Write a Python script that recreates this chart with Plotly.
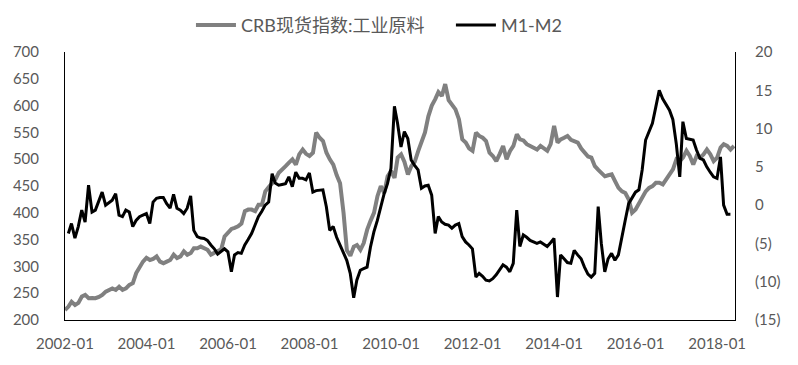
import pandas as pd
import plotly.graph_objects as go

# CRB spot index: industrial raw materials (monthly, starting 2002-01)
crb_values = [
    218.7, 225, 234, 228, 232, 243.7, 246.8, 240.6, 241, 240.6, 243, 246.8,
    253, 256, 259, 256, 262, 256, 259, 265.6, 268.7, 287.5, 300, 309,
    316, 312, 314, 318.6, 309, 306, 309, 312, 322, 315.6, 318.6, 328,
    321.7, 325, 334, 334, 337, 334, 331, 322, 325, 328, 332, 356,
    362, 370, 372, 374.8, 380, 403, 406, 406, 403, 415, 415, 440,
    448, 456, 462, 474.8, 482, 487, 493.5, 499.7, 490, 509, 518, 510,
    506, 512, 549.7, 540, 534, 512, 499.7, 490, 470, 455, 400, 330,
    320, 337, 340, 331, 343.6, 368.6, 385, 400, 431, 449.7, 437, 468,
    478, 465, 503, 509, 495, 471.6, 487, 495, 515, 535, 550, 580,
    600, 612, 625, 618, 640, 610, 600, 593, 574.6, 537, 531, 520,
    515.6, 549.7, 543.4, 540, 534, 512, 506, 496.5, 510, 524.7, 499.7, 515,
    524.7, 546.5, 537, 535, 528, 524.7, 520, 518, 524.7, 520, 515.6, 528,
    562, 531, 537, 540, 543.4, 536, 534, 531, 520, 512, 505, 503,
    487, 480, 474.8, 468, 470, 471.6, 459, 446.5, 440, 437, 424.7, 400,
    406, 418.5, 431, 440, 446.5, 449.7, 456, 456, 453, 462, 470, 481,
    499.7, 496.5, 503, 515.6, 506, 490, 506, 503, 509, 518, 509, 496.5,
    503, 521.6, 528, 524.7, 518, 524.7,
]

# M1-M2 growth gap (monthly, 2002-01 .. 2018-04)
m1m2_values = [
    -3.7, -2.4, -4.3, -2.8, -0.65, -2.2, 2.6, -0.9, -0.65, 0.5, 1.7, 0,
    0.3, 0.65, 1.5, -1.3, -1.5, -0.65, -0.9, -2.8, -2.0, -1.5, -1.3, -1.1,
    -2.4, 0.4, 0.9, 1.0, 1.0, 0.2, -0.4, 1.4, -0.4, -0.65, -1.1, -0.4,
    1.2, -3.3, -4.1, -4.3, -4.35, -4.6, -5.2, -5.7, -6.4, -6.0, -5.7, -6.1,
    -8.7, -6.5, -6.2, -6.3, -5.2, -4.5, -3.7, -2.6, -1.5, -0.8, 0, 0.4,
    4.1, 2.9, 2.6, 2.7, 2.8, 3.7, 2.4, 4.3, 3.5, 3.5, 3.3, 4.2,
    1.7, 1.9, 2.0, 2.0, -0.2, -3.3, -2.8, -4.2, -5.2, -6.3, -7.2, -8.9,
    -12.1, -9.8, -8.5, -8.3, -8.1, -5.5, -3.5, -2.0, -0.2, 1.5, 2.8, 4.8,
    12.9, 10.7, 7.6, 9.6, 8.7, 5.9, 5.2, 4.6, 2.2, 2.5, 2.6, 1.3,
    -3.7, -1.5, -2.2, -2.5, -2.6, -3.0, -2.6, -2.4, -4.1, -4.8, -5.2, -5.7,
    -9.4, -8.9, -9.3, -9.8, -9.9, -9.6, -9.1, -8.5, -7.8, -8.1, -8.7, -7.6,
    -0.65, -5.4, -3.9, -4.2, -4.6, -4.8, -5.0, -4.8, -5.1, -5.4, -4.9, -4.35,
    -12.0, -6.5, -7.0, -7.5, -7.6, -5.9, -6.5, -7.0, -8.1, -9.0, -9.4, -8.9,
    -0.2, -5.0, -8.7, -7.0, -6.3, -7.2, -6.5, -4.0, -2.0, 0.2, 1.0, 1.7,
    2.0, 4.6, 8.5, 9.7, 10.7, 12.8, 15.0, 13.9, 13.1, 12.4, 11.2, 8.0,
    3.7, 10.9, 8.7, 8.6, 8.5, 7.2, 6.1, 5.9, 5.0, 4.3, 3.7, 3.5,
    6.3, 0, -1.2, -1.2,
]

crb_dates = pd.date_range("2002-01-01", periods=len(crb_values), freq="MS")
m1m2_dates = pd.date_range("2002-01-31", periods=len(m1m2_values), freq="ME")

left_ticks = [200, 250, 300, 350, 400, 450, 500, 550, 600, 650, 700]
right_ticks = [-15, -10, -5, 0, 5, 10, 15, 20]
right_tick_text = ["(15)", "(10)", "(5)", "0", "5", "10", "15", "20"]
x_ticks = ["2002-01-01", "2004-01-01", "2006-01-01", "2008-01-01", "2010-01-01",
           "2012-01-01", "2014-01-01", "2016-01-01", "2018-01-01"]
x_tick_text = ["2002-01", "2004-01", "2006-01", "2008-01", "2010-01",
               "2012-01", "2014-01", "2016-01", "2018-01"]

FONT = "Lato, 'Open Sans', sans-serif"
LEG_FONT = "Lato, 'Noto Sans CJK SC', sans-serif"
TXT = "#595959"

fig = go.Figure()
fig.add_trace(go.Scatter(
    x=crb_dates, y=crb_values, name="CRB现货指数:工业原料", mode="lines",
    line=dict(color="#808080", width=4), yaxis="y", legend="legend"))
fig.add_trace(go.Scatter(
    x=m1m2_dates, y=m1m2_values, name="M1-M2", mode="lines",
    line=dict(color="#000000", width=3), yaxis="y2", legend="legend2"))

leg_common = dict(orientation="h", y=1.1, yanchor="middle", xanchor="left",
                  font=dict(family=LEG_FONT, size=18, color=TXT),
                  bgcolor="rgba(0,0,0,0)", itemwidth=40)

fig.update_layout(
    width=798, height=365,
    margin=dict(l=65, r=63, t=52, b=45, autoexpand=False),
    paper_bgcolor="white", plot_bgcolor="white",
    font=dict(family=FONT, size=15, color=TXT),
    showlegend=True,
    legend=dict(x=0.188, **leg_common),
    legend2=dict(x=0.576, **leg_common),
    xaxis=dict(type="date", range=["2002-01-01", "2018-06-10"],
               tickvals=x_ticks, ticktext=x_tick_text,
               showgrid=False, zeroline=False, showline=True,
               linecolor="black", linewidth=1, ticks="",
               ticklabelstandoff=10, tickfont=dict(size=15, color=TXT)),
    yaxis=dict(range=[200, 700], tickvals=left_ticks, showgrid=False, zeroline=False,
               showline=True, linecolor="black", linewidth=1, ticks="",
               ticklabelstandoff=22, tickfont=dict(size=15, color=TXT)),
    yaxis2=dict(range=[-15, 20], tickvals=right_ticks, ticktext=right_tick_text,
                overlaying="y", side="right", showgrid=False, zeroline=False,
                showline=True, linecolor="black", linewidth=1, ticks="",
                ticklabelstandoff=16, tickfont=dict(size=15, color=TXT)),
)

fig.write_html("out.html", config={"displayModeBar": False},
               post_script="document.body.style.margin='0px';")
